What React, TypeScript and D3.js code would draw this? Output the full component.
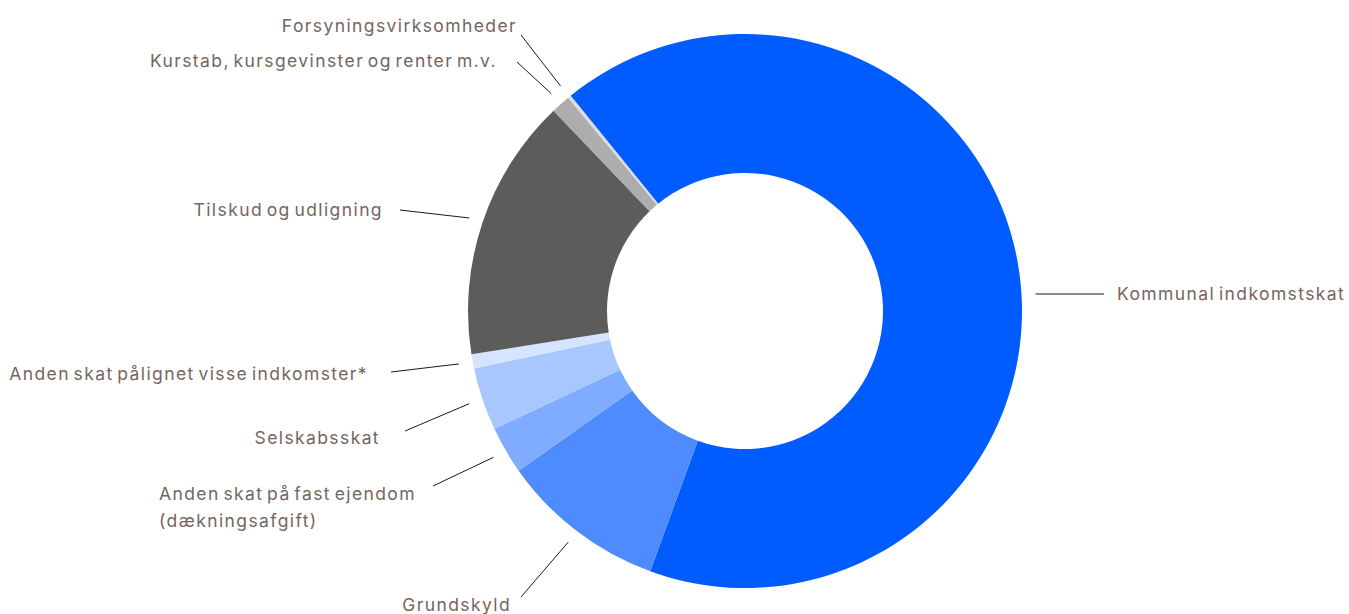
import React, { useRef, useEffect } from 'react';
import * as d3 from 'd3';

// slices in clockwise order, starting at the top-left edge of the big blue slice
const categories = [
  'Kommunal indkomstskat',
  'Grundskyld',
  'Anden skat på fast ejendom (dækningsafgift)',
  'Selskabsskat',
  'Anden skat pålignet visse indkomster*',
  'Tilskud og udligning',
  'Kurstab, kursgevinster og renter m.v.',
  'Forsyningsvirksomheder',
];
const shares = [66.4, 9.67, 2.78, 3.67, 0.83, 15.35, 1.125, 0.19];
const sliceColors = ['#005cff', '#4d8bff', '#80acff', '#a8c6ff', '#d5e4ff', '#5c5c5b', '#adadad', '#dcdcdc'];

// label placement (text lines, anchor and the outer end of the leader line)
const labelLayout = [
  { lines: ['Kommunal indkomstskat'], x: 1117, y: 300, anchor: 'start', lx: 1104, ly: 294, level: true },
  { lines: ['Grundskyld'], x: 511, y: 611, anchor: 'end', lx: 521, ly: 597 },
  { lines: ['Anden skat på fast ejendom', '(dækningsafgift)'], x: 159, y: 500, anchor: 'start', lx: 433, ly: 486 },
  { lines: ['Selskabsskat'], x: 380, y: 444, anchor: 'end', lx: 405, ly: 431 },
  { lines: ['Anden skat pålignet visse indkomster*'], x: 368, y: 380, anchor: 'end', lx: 391, ly: 372 },
  { lines: ['Tilskud og udligning'], x: 383, y: 216, anchor: 'end', lx: 400, ly: 210 },
  { lines: ['Kurstab, kursgevinster og renter m.v.'], x: 497, y: 67, anchor: 'end', lx: 517, ly: 62 },
  { lines: ['Forsyningsvirksomheder'], x: 517, y: 32, anchor: 'end', lx: 521, ly: 35 },
];

const width = 1349;
const height = 614;
const cx = 745;
const cy = 311;
const outer = 277;
const inner = 138;
const lineR = 291;

function drawDonut(svgEl: SVGSVGElement) {
  const svg = d3.select(svgEl);
  svg.selectAll('*').remove();

  const pie = d3.pie<number>()
    .sort(null)
    .value(d => d)
    .startAngle(-39 * Math.PI / 180)
    .endAngle(321 * Math.PI / 180);
  const arcs = pie(shares);

  const arc = d3.arc<d3.PieArcDatum<number>>()
    .innerRadius(inner)
    .outerRadius(outer);

  const g = svg.append('g').attr('transform', `translate(${cx},${cy})`);

  g.selectAll('path')
    .data(arcs)
    .join('path')
    .attr('d', arc)
    .attr('fill', (d, i) => sliceColors[i]);

  // leader lines
  svg.append('g')
    .selectAll('line')
    .data(arcs)
    .join('line')
    .attr('x1', (d, i) => labelLayout[i].lx)
    .attr('y1', (d, i) => labelLayout[i].ly)
    .attr('x2', (d, i) => {
      const L = labelLayout[i];
      if (L.level) return cx + Math.sqrt(lineR * lineR - (cy - L.ly) ** 2);
      const a = (d.startAngle + d.endAngle) / 2;
      return cx + lineR * Math.sin(a);
    })
    .attr('y2', (d, i) => {
      const L = labelLayout[i];
      if (L.level) return L.ly;
      const a = (d.startAngle + d.endAngle) / 2;
      return cy - lineR * Math.cos(a);
    })
    .attr('stroke', '#1a1a1a')
    .attr('stroke-width', 1);

  // labels
  const labels = svg.append('g')
    .attr('font-family', 'Inter, "Noto Sans", sans-serif')
    .attr('font-size', 17.5)
    .attr('letter-spacing', 1.4)
    .attr('word-spacing', -2.6)
    .attr('fill', '#76655d')
    .selectAll('text')
    .data(categories)
    .join('text')
    .attr('x', (d, i) => labelLayout[i].x)
    .attr('y', (d, i) => labelLayout[i].y)
    .attr('text-anchor', (d, i) => labelLayout[i].anchor);

  labels.each(function (d, i) {
    const t = d3.select(this);
    labelLayout[i].lines.forEach((ln, k) => {
      t.append('tspan')
        .attr('x', labelLayout[i].x)
        .attr('dy', k === 0 ? 0 : 27)
        .text(ln);
    });
  });
}

export default function App() {
  const ref = useRef<SVGSVGElement>(null);

  useEffect(() => {
    if (ref.current) drawDonut(ref.current);
  }, []);

  return (
    <svg
      ref={ref}
      width={width}
      height={height}
      style={{ position: 'absolute', left: 0, top: 0, background: '#fff' }}
    />
  );
}
